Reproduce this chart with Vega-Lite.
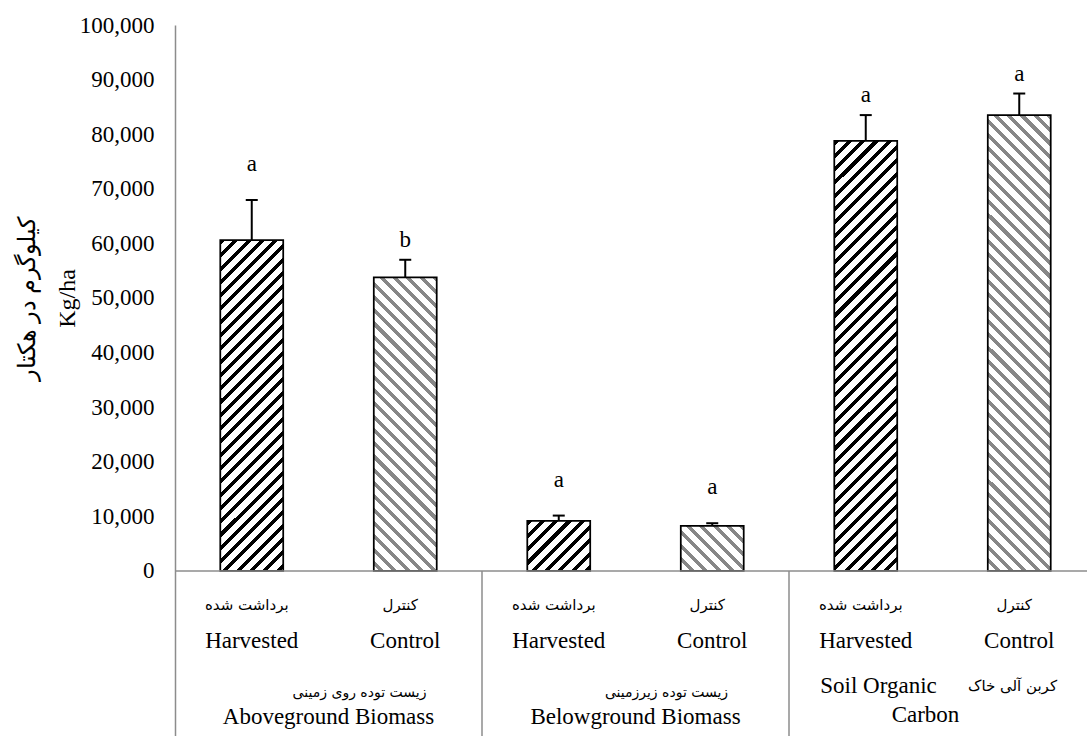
{
  "$schema": "https://vega.github.io/schema/vega-lite/v6.json",
  "width": 912,
  "height": 711,
  "autosize": "none",
  "padding": {"left": 175, "top": 25, "right": 0, "bottom": 0},
  "background": "#ffffff",
  "config": {
    "view": {"stroke": null},
    "axisY": {"ticks": false, "grid": false, "domainColor": "#8c8c8c", "domainWidth": 1.5, "labelFont": "Liberation Serif", "labelFontSize": 23,
      "labelColor": "#000", "labelPadding": 21, "labelFlush": false, "labelOverlap": false, "titleFont": "Liberation Serif", "titleFontSize": 24,
      "titleFontWeight": "normal", "titleColor": "#000"}
  },
  "params": [
    {"name": "hs", "value": [
      {"offset":0,"color":"#000"},{"offset":0.0095,"color":"#000"},{"offset":0.0095,"color":"#fff"},{"offset":0.025,"color":"#fff"},
      {"offset":0.025,"color":"#000"},{"offset":0.0345,"color":"#000"},{"offset":0.0345,"color":"#fff"},{"offset":0.05,"color":"#fff"},
      {"offset":0.05,"color":"#000"},{"offset":0.0595,"color":"#000"},{"offset":0.0595,"color":"#fff"},{"offset":0.075,"color":"#fff"},
      {"offset":0.075,"color":"#000"},{"offset":0.0845,"color":"#000"},{"offset":0.0845,"color":"#fff"},{"offset":0.1,"color":"#fff"},
      {"offset":0.1,"color":"#000"},{"offset":0.1095,"color":"#000"},{"offset":0.1095,"color":"#fff"},{"offset":0.125,"color":"#fff"},
      {"offset":0.125,"color":"#000"},{"offset":0.1345,"color":"#000"},{"offset":0.1345,"color":"#fff"},{"offset":0.15,"color":"#fff"},
      {"offset":0.15,"color":"#000"},{"offset":0.1595,"color":"#000"},{"offset":0.1595,"color":"#fff"},{"offset":0.175,"color":"#fff"},
      {"offset":0.175,"color":"#000"},{"offset":0.1845,"color":"#000"},{"offset":0.1845,"color":"#fff"},{"offset":0.2,"color":"#fff"},
      {"offset":0.2,"color":"#000"},{"offset":0.2095,"color":"#000"},{"offset":0.2095,"color":"#fff"},{"offset":0.225,"color":"#fff"},
      {"offset":0.225,"color":"#000"},{"offset":0.2345,"color":"#000"},{"offset":0.2345,"color":"#fff"},{"offset":0.25,"color":"#fff"},
      {"offset":0.25,"color":"#000"},{"offset":0.2595,"color":"#000"},{"offset":0.2595,"color":"#fff"},{"offset":0.275,"color":"#fff"},
      {"offset":0.275,"color":"#000"},{"offset":0.2845,"color":"#000"},{"offset":0.2845,"color":"#fff"},{"offset":0.3,"color":"#fff"},
      {"offset":0.3,"color":"#000"},{"offset":0.3095,"color":"#000"},{"offset":0.3095,"color":"#fff"},{"offset":0.325,"color":"#fff"},
      {"offset":0.325,"color":"#000"},{"offset":0.3345,"color":"#000"},{"offset":0.3345,"color":"#fff"},{"offset":0.35,"color":"#fff"},
      {"offset":0.35,"color":"#000"},{"offset":0.3595,"color":"#000"},{"offset":0.3595,"color":"#fff"},{"offset":0.375,"color":"#fff"},
      {"offset":0.375,"color":"#000"},{"offset":0.3845,"color":"#000"},{"offset":0.3845,"color":"#fff"},{"offset":0.4,"color":"#fff"},
      {"offset":0.4,"color":"#000"},{"offset":0.4095,"color":"#000"},{"offset":0.4095,"color":"#fff"},{"offset":0.425,"color":"#fff"},
      {"offset":0.425,"color":"#000"},{"offset":0.4345,"color":"#000"},{"offset":0.4345,"color":"#fff"},{"offset":0.45,"color":"#fff"},
      {"offset":0.45,"color":"#000"},{"offset":0.4595,"color":"#000"},{"offset":0.4595,"color":"#fff"},{"offset":0.475,"color":"#fff"},
      {"offset":0.475,"color":"#000"},{"offset":0.4845,"color":"#000"},{"offset":0.4845,"color":"#fff"},{"offset":0.5,"color":"#fff"},
      {"offset":0.5,"color":"#000"},{"offset":0.5095,"color":"#000"},{"offset":0.5095,"color":"#fff"},{"offset":0.525,"color":"#fff"},
      {"offset":0.525,"color":"#000"},{"offset":0.5345,"color":"#000"},{"offset":0.5345,"color":"#fff"},{"offset":0.55,"color":"#fff"},
      {"offset":0.55,"color":"#000"},{"offset":0.5595,"color":"#000"},{"offset":0.5595,"color":"#fff"},{"offset":0.575,"color":"#fff"},
      {"offset":0.575,"color":"#000"},{"offset":0.5845,"color":"#000"},{"offset":0.5845,"color":"#fff"},{"offset":0.6,"color":"#fff"},
      {"offset":0.6,"color":"#000"},{"offset":0.6095,"color":"#000"},{"offset":0.6095,"color":"#fff"},{"offset":0.625,"color":"#fff"},
      {"offset":0.625,"color":"#000"},{"offset":0.6345,"color":"#000"},{"offset":0.6345,"color":"#fff"},{"offset":0.65,"color":"#fff"},
      {"offset":0.65,"color":"#000"},{"offset":0.6595,"color":"#000"},{"offset":0.6595,"color":"#fff"},{"offset":0.675,"color":"#fff"},
      {"offset":0.675,"color":"#000"},{"offset":0.6845,"color":"#000"},{"offset":0.6845,"color":"#fff"},{"offset":0.7,"color":"#fff"},
      {"offset":0.7,"color":"#000"},{"offset":0.7095,"color":"#000"},{"offset":0.7095,"color":"#fff"},{"offset":0.725,"color":"#fff"},
      {"offset":0.725,"color":"#000"},{"offset":0.7345,"color":"#000"},{"offset":0.7345,"color":"#fff"},{"offset":0.75,"color":"#fff"},
      {"offset":0.75,"color":"#000"},{"offset":0.7595,"color":"#000"},{"offset":0.7595,"color":"#fff"},{"offset":0.775,"color":"#fff"},
      {"offset":0.775,"color":"#000"},{"offset":0.7845,"color":"#000"},{"offset":0.7845,"color":"#fff"},{"offset":0.8,"color":"#fff"},
      {"offset":0.8,"color":"#000"},{"offset":0.8095,"color":"#000"},{"offset":0.8095,"color":"#fff"},{"offset":0.825,"color":"#fff"},
      {"offset":0.825,"color":"#000"},{"offset":0.8345,"color":"#000"},{"offset":0.8345,"color":"#fff"},{"offset":0.85,"color":"#fff"},
      {"offset":0.85,"color":"#000"},{"offset":0.8595,"color":"#000"},{"offset":0.8595,"color":"#fff"},{"offset":0.875,"color":"#fff"},
      {"offset":0.875,"color":"#000"},{"offset":0.8845,"color":"#000"},{"offset":0.8845,"color":"#fff"},{"offset":0.9,"color":"#fff"},
      {"offset":0.9,"color":"#000"},{"offset":0.9095,"color":"#000"},{"offset":0.9095,"color":"#fff"},{"offset":0.925,"color":"#fff"},
      {"offset":0.925,"color":"#000"},{"offset":0.9345,"color":"#000"},{"offset":0.9345,"color":"#fff"},{"offset":0.95,"color":"#fff"},
      {"offset":0.95,"color":"#000"},{"offset":0.9595,"color":"#000"},{"offset":0.9595,"color":"#fff"},{"offset":0.975,"color":"#fff"},
      {"offset":0.975,"color":"#000"},{"offset":0.9845,"color":"#000"},{"offset":0.9845,"color":"#fff"},{"offset":1,"color":"#fff"}
    ]}
  ],
  "datasets": {
    "bars": [
      {"id": "AG_H", "group": "Aboveground Biomass", "treatment": "Harvested", "treatment_fa": "برداشت شده", "mean": 60600, "upper": 67950, "letter": "a"},
      {"id": "AG_C", "group": "Aboveground Biomass", "treatment": "Control", "treatment_fa": "کنترل", "mean": 53800, "upper": 57000, "letter": "b"},
      {"id": "BG_H", "group": "Belowground Biomass", "treatment": "Harvested", "treatment_fa": "برداشت شده", "mean": 9200, "upper": 10150, "letter": "a"},
      {"id": "BG_C", "group": "Belowground Biomass", "treatment": "Control", "treatment_fa": "کنترل", "mean": 8250, "upper": 8750, "letter": "a"},
      {"id": "SOC_H", "group": "Soil Organic Carbon", "treatment": "Harvested", "treatment_fa": "برداشت شده", "mean": 78800, "upper": 83500, "letter": "a"},
      {"id": "SOC_C", "group": "Soil Organic Carbon", "treatment": "Control", "treatment_fa": "کنترل", "mean": 83500, "upper": 87450, "letter": "a"}
    ],
    "groups": [
      {"group": "Aboveground Biomass", "group_fa": "زیست توده روی زمینی", "mid": "AG_C"},
      {"group": "Belowground Biomass", "group_fa": "زیست توده زیرزمینی", "mid": "BG_C"},
      {"group": "Soil Organic Carbon", "group_fa": "کربن آلی خاک", "mid": "SOC_C"}
    ]
  },
  "layer": [
    {
      "data": {"name": "bars"},
      "encoding": {
        "x": {"field": "id", "type": "nominal", "scale": {"domain": ["AG_H","AG_C","BG_H","BG_C","SOC_H","SOC_C"], "range": [0, 921], "paddingInner": 0, "paddingOuter": 0}, "axis": null},
        "y": {"field": "mean", "type": "quantitative", "scale": {"domain": [-30220, 100000], "nice": false, "zero": false},
          "axis": {"values": [0,10000,20000,30000,40000,50000,60000,70000,80000,90000,100000], "labelExpr": "format(datum.value, ',')", "ticks": false, "grid": false,
            "domainColor": "#8c8c8c", "domainWidth": 1.5, "labelFont": "Liberation Serif", "labelFontSize": 23, "labelColor": "#000",
            "labelPadding": 21, "labelFlush": false, "labelOverlap": false,
            "title": ["کیلوگرم در هکتار", "Kg/ha"], "titleFont": "Liberation Serif", "titleFontSize": 24, "titleFontWeight": "normal",
            "titleColor": "#000", "titleAngle": -90, "titleAlign": "center", "titleBaseline": "middle", "titleLineHeight": 40,
            "titleX": -148, "titleY": 273}}
      },
      "layer": [
        {"transform": [{"filter": "datum.id === 'AG_H'"}],
         "mark": {"type": "bar", "width": {"band": 0.41}, "stroke": "#000", "strokeWidth": 1.75, "fill": {"expr": "{gradient:'linear',x1:0,y1:0,x2:0.295,y2:1.5517,stops:hs}"}}},
        {"transform": [{"filter": "datum.id === 'AG_C'"}],
         "mark": {"type": "bar", "width": {"band": 0.41}, "stroke": "#000", "strokeWidth": 1.75, "fillOpacity": 0.47, "fill": {"expr": "{gradient:'linear',x1:1,y1:0,x2:0.6291,y2:1.7319,stops:hs}"}}},
        {"transform": [{"filter": "datum.id === 'BG_H'"}],
         "mark": {"type": "bar", "width": {"band": 0.41}, "stroke": "#000", "strokeWidth": 1.75, "fill": {"expr": "{gradient:'linear',x1:0,y1:0,x2:5.1672,y2:4.1239,stops:hs}"}}},
        {"transform": [{"filter": "datum.id === 'BG_C'"}],
         "mark": {"type": "bar", "width": {"band": 0.41}, "stroke": "#000", "strokeWidth": 1.75, "fillOpacity": 0.47, "fill": {"expr": "{gradient:'linear',x1:1,y1:0,x2:-4.5948,y2:4.0027,stops:hs}"}}},
        {"transform": [{"filter": "datum.id === 'SOC_H'"}],
         "mark": {"type": "bar", "width": {"band": 0.41}, "stroke": "#000", "strokeWidth": 1.75, "fill": {"expr": "{gradient:'linear',x1:0,y1:0,x2:0.177,y2:1.2108,stops:hs}"}}},
        {"transform": [{"filter": "datum.id === 'SOC_C'"}],
         "mark": {"type": "bar", "width": {"band": 0.41}, "stroke": "#000", "strokeWidth": 1.75, "fillOpacity": 0.47, "fill": {"expr": "{gradient:'linear',x1:1,y1:0,x2:0.842,y2:1.1451,stops:hs}"}}}
      ]
    },
    {
      "data": {"values": [{}]},
      "mark": {"type": "rule", "color": "#8c8c8c", "strokeWidth": 1.5},
      "encoding": {"y": {"datum": 0, "type": "quantitative"}}
    },
    {
      "data": {"name": "bars"},
      "transform": [{"filter": "datum.id === 'BG_H' || datum.id === 'SOC_H'"}],
      "mark": {"type": "rule", "color": "#8c8c8c", "strokeWidth": 1.5},
      "encoding": {
        "x": {"field": "id", "type": "nominal", "bandPosition": 0, "axis": null},
        "y": {"datum": 0, "type": "quantitative"},
        "y2": {"datum": -30220}
      }
    },
    {
      "data": {"name": "bars"},
      "mark": {"type": "rule", "color": "#000", "strokeWidth": 2},
      "encoding": {
        "x": {"field": "id", "type": "nominal", "axis": null},
        "y": {"field": "mean", "type": "quantitative"},
        "y2": {"field": "upper"}
      }
    },
    {
      "data": {"name": "bars"},
      "mark": {"type": "tick", "orient": "horizontal", "size": 12, "thickness": 2, "color": "#000", "opacity": 1},
      "encoding": {
        "x": {"field": "id", "type": "nominal", "axis": null},
        "y": {"field": "upper", "type": "quantitative"}
      }
    },
    {
      "data": {"name": "bars"},
      "transform": [{"filter": "datum.id === 'AG_H' || datum.id === 'BG_H' || datum.id === 'BG_C'"}],
      "mark": {"type": "text", "font": "Liberation Serif", "fontSize": 23, "color": "#000", "baseline": "alphabetic", "dy": -29},
      "encoding": {
        "x": {"field": "id", "type": "nominal", "axis": null},
        "y": {"field": "upper", "type": "quantitative"},
        "text": {"field": "letter"}
      }
    },
    {
      "data": {"name": "bars"},
      "transform": [{"filter": "datum.id === 'AG_C' || datum.id === 'SOC_H' || datum.id === 'SOC_C'"}],
      "mark": {"type": "text", "font": "Liberation Serif", "fontSize": 23, "color": "#000", "baseline": "alphabetic", "dy": -13},
      "encoding": {
        "x": {"field": "id", "type": "nominal", "axis": null},
        "y": {"field": "upper", "type": "quantitative"},
        "text": {"field": "letter"}
      }
    },
    {
      "data": {"name": "bars"},
      "mark": {"type": "text", "font": "DejaVu Sans", "fontSize": 15, "color": "#000", "baseline": "middle", "dx": -5},
      "encoding": {
        "x": {"field": "id", "type": "nominal", "axis": null},
        "y": {"datum": -6227, "type": "quantitative"},
        "text": {"field": "treatment_fa"}
      }
    },
    {
      "data": {"name": "bars"},
      "mark": {"type": "text", "font": "Liberation Serif", "fontSize": 23, "color": "#000", "baseline": "middle"},
      "encoding": {
        "x": {"field": "id", "type": "nominal", "axis": null},
        "y": {"datum": -12821, "type": "quantitative"},
        "text": {"field": "treatment"}
      }
    },
    {
      "data": {"name": "groups"},
      "transform": [{"filter": "datum.group !== 'Soil Organic Carbon'"}],
      "mark": {"type": "text", "font": "DejaVu Sans", "fontSize": 14, "color": "#000", "baseline": "middle", "dx": 31},
      "encoding": {
        "x": {"field": "mid", "type": "nominal", "bandPosition": 0, "axis": null},
        "y": {"datum": -22344, "type": "quantitative"},
        "text": {"field": "group_fa"}
      }
    },
    {
      "data": {"name": "groups"},
      "transform": [{"filter": "datum.group !== 'Soil Organic Carbon'"}],
      "mark": {"type": "text", "font": "Liberation Serif", "fontSize": 23, "color": "#000", "baseline": "middle"},
      "encoding": {
        "x": {"field": "mid", "type": "nominal", "bandPosition": 0, "axis": null},
        "y": {"datum": -26740, "type": "quantitative"},
        "text": {"field": "group"}
      }
    },
    {
      "data": {"name": "groups"},
      "transform": [{"filter": "datum.group === 'Soil Organic Carbon'"}],
      "mark": {"type": "text", "font": "DejaVu Sans", "fontSize": 15, "color": "#000", "baseline": "middle", "dx": 70},
      "encoding": {
        "x": {"field": "mid", "type": "nominal", "bandPosition": 0, "axis": null},
        "y": {"datum": -21062, "type": "quantitative"},
        "text": {"field": "group_fa"}
      }
    },
    {
      "data": {"name": "groups"},
      "transform": [{"filter": "datum.group === 'Soil Organic Carbon'"}],
      "mark": {"type": "text", "font": "Liberation Serif", "fontSize": 23, "color": "#000", "baseline": "middle", "dx": -64},
      "encoding": {
        "x": {"field": "mid", "type": "nominal", "bandPosition": 0, "axis": null},
        "y": {"datum": -21062, "type": "quantitative"},
        "text": {"value": "Soil Organic"}
      }
    },
    {
      "data": {"name": "groups"},
      "transform": [{"filter": "datum.group === 'Soil Organic Carbon'"}],
      "mark": {"type": "text", "font": "Liberation Serif", "fontSize": 23, "color": "#000", "baseline": "middle", "dx": -17},
      "encoding": {
        "x": {"field": "mid", "type": "nominal", "bandPosition": 0, "axis": null},
        "y": {"datum": -26374, "type": "quantitative"},
        "text": {"value": "Carbon"}
      }
    }
  ]
}
